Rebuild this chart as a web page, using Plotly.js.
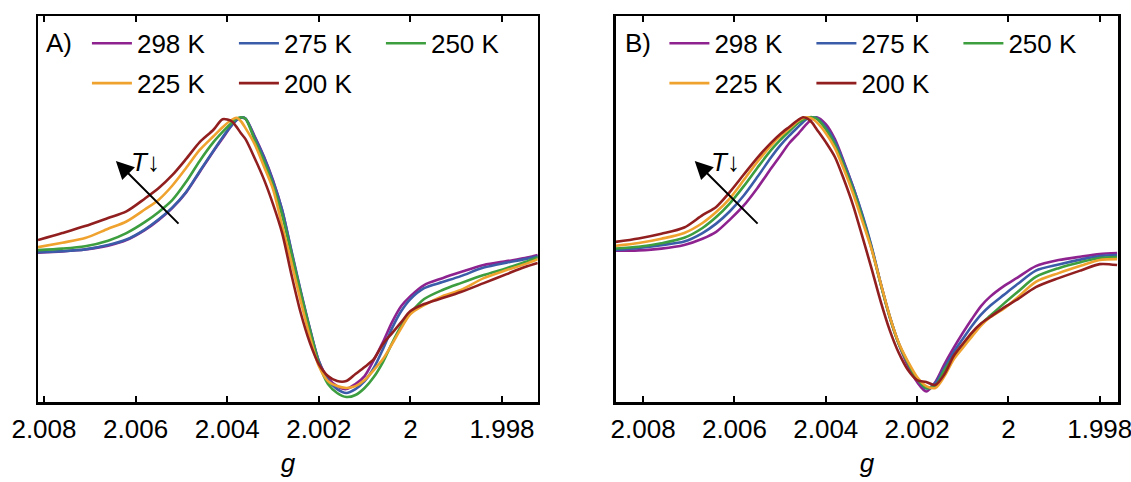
<!DOCTYPE html>
<html><head><meta charset="utf-8">
<script src="https://cdn.plot.ly/plotly-3.0.1.min.js"></script>
<style>html,body{margin:0;padding:0;background:#fff}#chart{width:1131px;height:482px}</style>
</head><body><div id="chart"></div>
<script>
// ---------- data ----------
const seriesNames = ['298 K', '275 K', '250 K', '225 K', '200 K'];
const seriesColors = ['#8E2390', '#3B5CA8', '#3C9E3F', '#EFA22E', '#921F1F'];

const tickVals = [2.008, 2.006, 2.004, 2.002, 2.000, 1.998];
const tickText = ['2.008', '2.006', '2.004', '2.002', '2', '1.998'];

// Panel A
const gA = [2.00813, 2.0076, 2.0071, 2.0066, 2.0062, 2.0058, 2.0055, 2.0052, 2.0049, 2.0046,
  2.0043, 2.0041, 2.0039, 2.0038, 2.0037, 2.0036, 2.0034, 2.0032, 2.0030, 2.0028,
  2.0026, 2.0024, 2.0022, 2.0020, 2.0018, 2.0016, 2.0014, 2.0012, 2.0010, 2.0008,
  2.0006, 2.0004, 2.0002, 2.0000, 1.9997, 1.9993, 1.9989, 1.9984, 1.9979, 1.9975, 1.99722];
const a298 = [-0.4, 0.5, 1.9, 4.8, 8.9, 16.3, 23.7, 32.6, 44.1, 59.4, 74.8, 84.4, 94.1, 97.8, 99.6, 98.9, 85.9, 71.1, 53.3, 31.1, 0.7, -28.9, -56.3, -80.7, -93.3, -99.3, -101.5, -97.8, -91.9, -80, -66.7, -51.9, -40, -32.6, -24.4, -19.3, -14.8, -9.6, -6.7, -4.4, -2.2];
const a275 = [0, 0.7, 2, 5.2, 9.3, 16.7, 24.1, 33, 44.4, 60, 75.2, 85.2, 94.1, 97.8, 99.8, 99, 85.2, 70.4, 52.6, 31.1, 1.5, -28.1, -55.9, -80.7, -94.8, -101.5, -104.4, -101.5, -95.6, -85.9, -71.9, -56.3, -43.7, -34.8, -26.7, -22.2, -17.8, -11.5, -7.8, -5.2, -3];
const a250 = [1.5, 2.6, 4.4, 8.5, 14.1, 22.2, 29.6, 38.5, 51.9, 67.6, 81.5, 89.1, 95.9, 98.9, 100, 98.9, 83, 67.4, 49.6, 27.4, -0.7, -29.6, -57, -82.2, -97.8, -104.4, -107.4, -105.9, -100.7, -92.6, -81.5, -67.4, -54.8, -45.2, -34.8, -28.1, -23, -17, -11.9, -7.4, -3.7];
const a225 = [3.7, 7, 10.4, 17.3, 22.7, 31.6, 38.7, 49.2, 62.2, 75.7, 85.9, 92.6, 98.1, 99.6, 97, 91.9, 80, 63.7, 46.7, 19.5, -7.4, -35.6, -62.1, -84.4, -95.6, -99.3, -100.7, -99.3, -94.8, -87.4, -79.3, -68.1, -56.3, -45.9, -39.3, -32.6, -28.1, -19.3, -13.3, -8.9, -5.2];
const a200 = [8.9, 14.1, 19.3, 25.3, 30.2, 39.6, 47.3, 57, 68.9, 81.5, 90.7, 98.5, 97, 93, 88.1, 83.7, 69.6, 54.1, 35.6, 14.1, -16.3, -44.4, -66.7, -83, -91.9, -95.6, -95.6, -90.4, -85.2, -79.3, -68.1, -60, -51.9, -43.7, -38.5, -34.1, -29.6, -23, -16.3, -11.1, -8.1];

// Panel B
const gB = [2.0086, 2.0081, 2.0076, 2.0071, 2.0067, 2.0064, 2.0061, 2.0058, 2.0055, 2.0052,
  2.0050, 2.0048, 2.0046, 2.0045, 2.0044, 2.0043, 2.0042, 2.0040, 2.0038, 2.0036,
  2.0034, 2.0032, 2.0030, 2.0028, 2.0026, 2.0024, 2.0022, 2.0020, 2.0018, 2.0016,
  2.0014, 2.0012, 2.0010, 2.0008, 2.0006, 2.0004, 2.0001, 1.9998, 1.9994, 1.9989,
  1.9984, 1.9980, 1.99762];
const b298 = [1.0, 1.3, 2.6, 5.3, 9.9, 15.0, 24.1, 34.4, 47.4, 61.9, 71.3, 80.7, 87.9, 91.9, 95.6, 98.5, 99.9, 94.8, 83.7, 66.7, 48.1, 27.0, 3.7, -23.0, -48.1, -68.1, -84.4, -96.3, -103.3, -96.3, -83.0, -71.1, -60.0, -49.6, -40.0, -33.0, -25.2, -18.9, -10.4, -5.9, -3.3, -1.5, -0.7];
const b275 = [1.5, 3.1, 5.2, 7.8, 14.1, 21.1, 30.3, 41.8, 55.6, 70.1, 78.9, 86.3, 93.0, 96.3, 98.9, 99.9, 99.4, 92.6, 82.1, 65.9, 48.1, 27.9, 4.7, -22.8, -47.4, -67.8, -82.2, -94.1, -101.1, -97.0, -85.9, -74.1, -64.4, -54.8, -46.4, -39.8, -31.7, -23.7, -13.7, -9.2, -5.4, -3.0, -2.2];
const b250 = [2.7, 4.0, 6.6, 10.6, 17.9, 26.0, 36.2, 48.7, 62.4, 75.6, 83.0, 89.6, 95.9, 98.1, 99.6, 100, 98.9, 91.1, 79.6, 63.4, 45.8, 25.4, 3.0, -23.5, -48.1, -68.1, -82.2, -94.1, -100.7, -99.3, -87.4, -77.8, -69.5, -60.7, -53.3, -47.2, -38.2, -29.6, -18.4, -11.9, -7.3, -4.4, -3.7];
const b225 = [4.7, 6.7, 9.9, 14.2, 21.6, 29.7, 39.9, 53.2, 66.8, 79.0, 85.8, 91.6, 97.4, 99.3, 100, 98.9, 96.3, 88.1, 77.1, 61.0, 43.3, 23.0, 2.4, -22.7, -47.4, -67.4, -81.1, -92.6, -99.3, -100.7, -91.9, -79.6, -71.0, -62.6, -54.4, -48.3, -41.9, -33.6, -22.1, -15.6, -10.0, -5.9, -5.2];
const b200 = [7.6, 10.1, 13.6, 18.2, 27.4, 33.5, 44.6, 57.3, 69.9, 81.0, 87.4, 92.8, 98.1, 99.9, 98.9, 95.9, 91.1, 81.5, 70.5, 53.6, 34.5, 11.6, -11.9, -36.3, -57.8, -74.8, -87.4, -94.8, -96.3, -98.5, -90.4, -77.0, -68.0, -59.6, -52.9, -48.1, -41.1, -35.0, -26.0, -19.3, -13.4, -8.9, -9.6];

// ---------- figure ----------
const FONT = '"Liberation Sans", Arial, Helvetica, sans-serif';
const panelA = [a298, a275, a250, a225, a200];
const panelB = [b298, b275, b250, b225, b200];

const traces = [];
function addPanel(gx, ys, xa, ya, legRow1, legRow2) {
  ys.forEach((y, i) => {
    traces.push({
      type: 'scatter', mode: 'lines', x: gx, y: y,
      xaxis: xa, yaxis: ya,
      name: seriesNames[i],
      legend: i < 3 ? legRow1 : legRow2,
      line: {color: seriesColors[i], width: 2.6, shape: 'spline', smoothing: 0.8},
      hoverinfo: 'skip'
    });
  });
}
addPanel(gA, panelA, 'x', 'y', 'legend', 'legend2');
addPanel(gB, panelB, 'x2', 'y2', 'legend3', 'legend4');

const xBase = {
  showgrid: false, zeroline: false, showline: true, linecolor: '#000', linewidth: 2.5,
  mirror: 'ticks', ticks: 'inside', ticklen: 6, tickwidth: 2, tickcolor: '#000',
  tickvals: tickVals, ticktext: tickText, ticklabeloverflow: 'allow', ticklabelstandoff: 2,
  tickfont: {family: FONT, size: 26, color: '#000'},
  title: {text: '<i>g</i>', font: {family: FONT, size: 26, color: '#000'}, standoff: 11},
  fixedrange: true
};
const yBase = {
  showgrid: false, zeroline: false, showline: true, linecolor: '#000', linewidth: 2.5,
  mirror: true, ticks: '', showticklabels: false, range: [-111.1, 175], fixedrange: true
};
const legBase = {
  orientation: 'h', font: {family: FONT, size: 26, color: '#000'},
  bgcolor: 'rgba(0,0,0,0)', borderwidth: 0, entrywidth: 92, entrywidthmode: 'pixels',
  itemwidth: 40,
  xanchor: 'left', yanchor: 'middle', itemclick: false, itemdoubleclick: false
};
const rowY1 = 0.9293, rowY2 = 0.8258;
const legAx = 0.0453, legBx = 0.580;

const annFont = {family: FONT, size: 26, color: '#000'};
const layout = {
  width: 1131, height: 482,
  margin: {l: 38, r: 12.5, t: 15.7, b: 80, pad: 0},
  paper_bgcolor: '#fff', plot_bgcolor: '#fff',
  font: {family: FONT, color: '#000'},
  xaxis: Object.assign({}, xBase, {domain: [0, 0.46275], range: [2.00813, 1.99722], anchor: 'y'}),
  yaxis: Object.assign({}, yBase, {domain: [0, 1], anchor: 'x'}),
  xaxis2: Object.assign({}, xBase, {domain: [0.53494, 1], range: [2.0086, 1.99760], anchor: 'y2'}),
  yaxis2: Object.assign({}, yBase, {domain: [0, 1], anchor: 'x2'}),
  legend: Object.assign({}, legBase, {x: legAx, y: rowY1}),
  legend2: Object.assign({}, legBase, {x: legAx, y: rowY2}),
  legend3: Object.assign({}, legBase, {x: legBx, y: rowY1}),
  legend4: Object.assign({}, legBase, {x: legBx, y: rowY2}),
  showlegend: true,
  annotations: [
    {xref: 'x domain', yref: 'y domain', x: 0.012, y: 0.929, xanchor: 'left', yanchor: 'middle',
     text: 'A)', showarrow: false, font: annFont},
    {xref: 'x2 domain', yref: 'y2 domain', x: 0.014, y: 0.929, xanchor: 'left', yanchor: 'middle',
     text: 'B)', showarrow: false, font: annFont},
    {xref: 'x', yref: 'y', axref: 'x', ayref: 'y', x: 2.00643, y: 67.6, ax: 2.00503, ay: 20,
     text: '', showarrow: true, arrowhead: 2, arrowsize: 1.8, arrowwidth: 2, arrowcolor: '#000', standoff: 0},
    {xref: 'x2', yref: 'y2', axref: 'x2', ayref: 'y2', x: 2.00687, y: 67.6, ax: 2.00546, ay: 20,
     text: '', showarrow: true, arrowhead: 2, arrowsize: 1.8, arrowwidth: 2, arrowcolor: '#000', standoff: 0},
    {xref: 'x', yref: 'y', x: 2.00578, y: 66.7, text: '<i>T</i>↓', showarrow: false, font: annFont},
    {xref: 'x2', yref: 'y2', x: 2.00619, y: 66.7, text: '<i>T</i>↓', showarrow: false, font: annFont}
  ]
};
Plotly.newPlot('chart', traces, layout, {displayModeBar: false, staticPlot: true});
</script>
</body></html>
